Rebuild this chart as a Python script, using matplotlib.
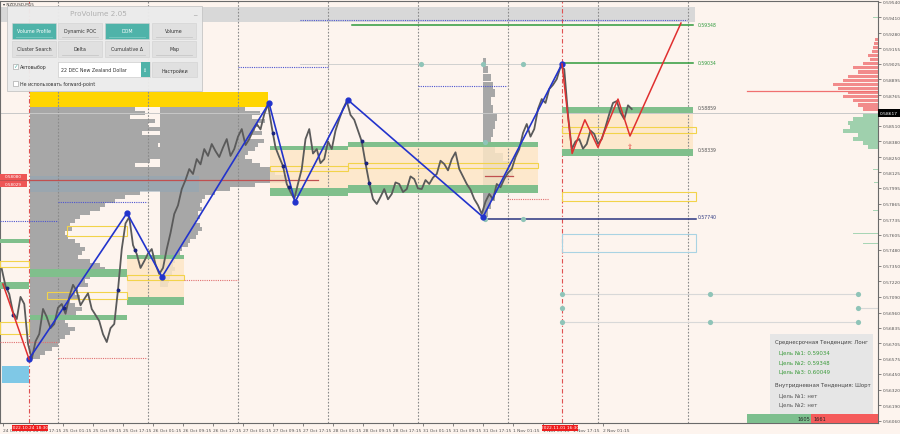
import numpy as np
import matplotlib
matplotlib.use("Agg")
from matplotlib import pyplot as plt
from matplotlib.patches import Rectangle

# ---- данные ----
# время: часы от 25 Oct 00:00 (торговое время, выходные пропущены)
t_price = np.arange(-15, 154, 1)
price = [0.57321, 0.57180, 0.57113, 0.56960, 0.56906, 0.57090, 0.57031, 0.56700,
         0.56574, 0.56720, 0.56782, 0.56990, 0.56923, 0.56830, 0.56865, 0.57000,
         0.57031, 0.56950, 0.57089, 0.57190, 0.57138, 0.57020, 0.57072, 0.57120,
         0.56989, 0.56940, 0.56889, 0.56780, 0.56715, 0.56830, 0.56865, 0.57150,
         0.57487, 0.57700, 0.57753, 0.57520, 0.57445, 0.57330, 0.57387, 0.57450,
         0.57487, 0.57360, 0.57280, 0.57330, 0.57487, 0.57620, 0.57778, 0.57850,
         0.57985, 0.58060, 0.58151, 0.58110, 0.58234, 0.58190, 0.58317, 0.58260,
         0.58359, 0.58300, 0.58251, 0.58330, 0.58400, 0.58260, 0.58317, 0.58420,
         0.58483, 0.58350, 0.58400, 0.58470, 0.58525, 0.58480, 0.58607, 0.58690,
         0.58500, 0.58330, 0.58250, 0.58176, 0.58027, 0.57960, 0.57902, 0.58030,
         0.58151, 0.58400, 0.58483, 0.58280, 0.58317, 0.58200, 0.58234, 0.58380,
         0.58317, 0.58470, 0.58566, 0.58650, 0.58715, 0.58600, 0.58560, 0.58470,
         0.58380, 0.58200, 0.58035, 0.57902, 0.57861, 0.57920, 0.57985, 0.57900,
         0.57944, 0.58040, 0.58027, 0.57960, 0.57985, 0.58090, 0.58068, 0.57990,
         0.57985, 0.58060, 0.58027, 0.58080, 0.58110, 0.58220, 0.58193, 0.58140,
         0.58234, 0.58290, 0.58151, 0.58090, 0.58027, 0.57980, 0.57902, 0.57850,
         0.57778, 0.57880, 0.57944, 0.57900, 0.58027, 0.58000, 0.58068, 0.58120,
         0.58151, 0.58250, 0.58317, 0.58450, 0.58525, 0.58420, 0.58483, 0.58650,
         0.58732, 0.58700, 0.58815, 0.58850, 0.58898, 0.59000, 0.58981, 0.58600,
         0.58317, 0.58380, 0.58400, 0.58320, 0.58359, 0.58470, 0.58442, 0.58360,
         0.58400, 0.58500, 0.58607, 0.58700, 0.58715, 0.58620, 0.58566, 0.58680,
         0.58649]

# зигзаг
zz_t = [-7.73, 18.4, 27.73, 56.27, 63.2, 77.33, 113.33, 134.4]
zz_p = [0.56574, 0.57786, 0.57255, 0.58699, 0.57877, 0.58724, 0.57753, 0.59023]
frac_t = [-13.6, -12.0, 1.6, 16.0, 20.5, 57.3, 60.0, 61.6, 81.0, 82.0, 83.0]
frac_p = [0.57160, 0.56940, 0.57000, 0.57150, 0.57480, 0.58450, 0.58176, 0.58000,
          0.58380, 0.58200, 0.58035]
red_left_t = [-14.7, -7.73]
red_left_p = [0.57197, 0.56574]
red_proj_t = [134.4, 137.1, 140.5, 144.0, 149.33, 152.53, 166.13]
red_proj_p = [0.59023, 0.58280, 0.58560, 0.58330, 0.58732, 0.58425, 0.59363]

# профили объёма (начало, уровни, объёмы)
p1_t0 = -7.47
p1_lv = np.linspace(0.58649, 0.56591, 63)
p1_vol = [105, 115, 100, 125, 118, 130, 112, 135,
          140, 128, 150, 138, 140, 120, 105, 130,
          170, 230, 260, 200, 150, 110, 95, 85,
          75, 70, 60, 50, 45, 40, 42, 35,
          38, 45, 50, 55, 52, 48, 60, 70,
          75, 65, 60, 55, 58, 48, 45, 50,
          40, 45, 52, 46, 40, 35, 38, 45,
          40, 35, 30, 28, 22, 15, 10]
p2_t0 = 27.2
p2_lv = np.linspace(0.58649, 0.57188, 45)
p2_vol = [85, 100, 92, 105, 98, 95, 102, 90,
          104, 98, 95, 88, 85, 92, 100, 110,
          115, 130, 125, 95, 70, 55, 45, 42,
          40, 42, 38, 40, 36, 40, 42, 38,
          36, 30, 28, 22, 20, 16, 15, 13,
          15, 12, 10, 9, 8]
p3_t0 = 113.33
p3_lv = np.linspace(0.59047, 0.57786, 20)
p3_vol = [3, 5, 8, 10, 12, 8, 10, 14, 12, 10, 8, 12, 20, 28, 30, 25, 15, 12, 8, 5]

# DOM справа
dom_red_lv = np.linspace(0.59230, 0.58649, 18)
dom_red = [3, 4, 5, 6, 10, 8, 15, 25, 20, 30, 35, 45, 40, 30, 35, 25, 20, 15]
dom_green_lv = np.linspace(0.58600, 0.58334, 9)
dom_green = [15, 25, 30, 28, 35, 20, 25, 15, 10]
dom_extra_lv = [0.59413, 0.58151, 0.58043, 0.57803, 0.57620, 0.57537]
dom_extra = [5, 5, 4, 5, 25, 15]

# зоны (t0, t1, верх, низ)
orange_zones = [(18.4, 33.6, 0.57437, 0.57031), (56.53, 77.33, 0.58342, 0.57927),
                (77.33, 128.0, 0.58375, 0.57952), (134.4, 169.33, 0.58616, 0.58317)]
green_bands = [(-15.47, -7.73, 0.57570, 0.57537), (-15.47, -7.73, 0.57213, 0.57155),
               (-7.47, 18.4, 0.57321, 0.57255), (-7.47, 18.4, 0.56939, 0.56898),
               (18.4, 33.6, 0.57437, 0.57404), (18.4, 33.6, 0.57089, 0.57022),
               (56.53, 77.33, 0.58342, 0.58309), (56.53, 77.33, 0.57993, 0.57927),
               (77.33, 128.0, 0.58375, 0.58334), (77.33, 128.0, 0.58018, 0.57952),
               (134.4, 169.33, 0.58666, 0.58616), (134.4, 169.33, 0.58317, 0.58259)]
yellow_boxes = [(-15.47, -7.73, 0.57387, 0.57338), (-15.47, -7.73, 0.56881, 0.56782),
                (-2.93, 18.4, 0.57130, 0.57072), (2.4, 18.4, 0.57678, 0.57595),
                (18.4, 33.6, 0.57271, 0.57230), (56.53, 77.33, 0.58176, 0.58134),
                (77.33, 128.0, 0.58201, 0.58159), (134.4, 170.13, 0.58500, 0.58450),
                (134.4, 170.13, 0.57960, 0.57885)]

# уровни целей
levels = [0.59348, 0.59034, 0.58659, 0.58339, 0.57740]
level_txt = ["0.59348", "0.59034", "0.58859", "0.58339", "0.57740"]

# подписи осей
y_ticks = [0.59540, 0.59410, 0.59280, 0.59155, 0.59025, 0.58895, 0.58765, 0.58640,
           0.58510, 0.58380, 0.58250, 0.58125, 0.57995, 0.57865, 0.57735, 0.57605,
           0.57480, 0.57350, 0.57220, 0.57090, 0.56960, 0.56835, 0.56705, 0.56575,
           0.56450, 0.56320, 0.56190, 0.56060]
x_labels = ["24 Oct 09:15", "24 Oct 17:15",
            "25 Oct 01:15", "25 Oct 09:15", "25 Oct 17:15",
            "26 Oct 01:15", "26 Oct 09:15", "26 Oct 17:15",
            "27 Oct 01:15", "27 Oct 09:15", "27 Oct 17:15",
            "28 Oct 01:15", "28 Oct 09:15", "28 Oct 17:15",
            "31 Oct 01:15", "31 Oct 09:15", "31 Oct 17:15",
            "1 Nov 01:15", "1 Nov 09:15", "1 Nov 17:15", "2 Nov 01:15"]
x_ticks = [-14.75 + 8 * i for i in range(len(x_labels))]
day_sep = [0, 24, 48, 72, 96, 120, 144, 168]
current = 0.58617

bg = "#fdf4ee"
green = "#80bf8c"
HPX = 3.75  # пикселей на час

fig = plt.figure(figsize=(9, 4.35), dpi=100)
fig.patch.set_facecolor(bg)
ax = fig.add_axes([0.0, 11 / 435, 878 / 900, 422 / 435])
ax.set_facecolor(bg)
ax.set_xlim(-15.47, 218.67)
ax.set_ylim(0.56043, 0.59546)

# серая полоса сверху
ax.add_patch(Rectangle((-15.47, 0.59371), 185.3, 0.00125, fc="#d8d8d8", ec="none", zorder=1))

# профили
for t0, lv, vol in [(p1_t0, p1_lv, p1_vol), (p2_t0, p2_lv, p2_vol), (p3_t0, p3_lv, p3_vol)]:
    ax.barh(lv, np.array(vol) / HPX, left=t0, height=abs(lv[1] - lv[0]) * 0.9,
            color="#a7a7a7", linewidth=0, zorder=1)
ax.add_patch(Rectangle((-7.47, 0.58666), 63.5, 0.00124, fc="#ffd500", ec="none", zorder=2))
ax.add_patch(Rectangle((-7.47, 0.57960), 45, 0.00133, fc="#8fa6b8", ec="none", alpha=0.5, zorder=2))

# DOM
ax.barh(dom_red_lv, -np.array(dom_red) / HPX, left=218.67, height=0.00026, color="#f28b8b", linewidth=0, zorder=2)
ax.barh(dom_green_lv, -np.array(dom_green) / HPX, left=218.67, height=0.00026, color="#9fd0ad", linewidth=0, zorder=2)
ax.barh(dom_extra_lv, -np.array(dom_extra) / HPX, left=218.67, height=0.00008, color="#a8d5b5", linewidth=0, zorder=2)
ax.plot([183.73, 218.67], [0.58798, 0.58798], color="#f07070", lw=0.9, zorder=2)

# зоны
for t0, t1, top, bot in orange_zones:
    ax.add_patch(Rectangle((t0, bot), t1 - t0, top - bot, fc="#fde7c6", ec="none", alpha=0.85, zorder=2))
for t0, t1, top, bot in green_bands:
    ax.add_patch(Rectangle((t0, bot), t1 - t0, top - bot, fc=green, ec="none", zorder=3))
for t0, t1, top, bot in yellow_boxes:
    ax.add_patch(Rectangle((t0, bot), t1 - t0, top - bot, fc="none", ec="#f2d34a", lw=0.8, zorder=3))
ax.add_patch(Rectangle((134.4, 0.57463), 35.7, 0.00149, fc="none", ec="#a9d3e3", lw=0.8, zorder=3))
ax.add_patch(Rectangle((-14.93, 0.56375), 7.2, 0.00141, fc="#7fc8e6", ec="none", zorder=3))

# вертикальные разделители дней
for d in day_sep:
    ax.axvline(d, color="#8a8a8a", lw=0.8, ls=(0, (1.5, 1.5)), zorder=2)
for tv in [-7.73, 134.4]:
    ax.axvline(tv, color="#e05050", lw=0.8, ls=(0, (4, 2, 1, 2)), zorder=2)

# горизонтальные линии
ax.axhline(current, color="#c8c8c8", lw=0.7, zorder=2)
ax.plot([-15.47, 69.3], [0.58060, 0.58060], color="#c05050", lw=0.9, zorder=3)
ax.plot([113.87, 121.33], [0.58093, 0.58093], color="#c05050", lw=0.9, zorder=3)
for t0, t1, p in [(64.5, 167.7, 0.59388), (96, 119.73, 0.58840), (0, 23.73, 0.57877),
                  (-15.47, 0, 0.57719), (48, 72, 0.59000)]:
    ax.plot([t0, t1], [p, p], color="#4d55d0", lw=0.8, ls=(0, (1, 1)), zorder=3)
for t0, t1, p in [(-15.47, 0, 0.56715), (0, 23.73, 0.56582), (33.6, 48, 0.57230), (119.73, 131, 0.57902)]:
    ax.plot([t0, t1], [p, p], color="#e07070", lw=0.8, ls=(0, (1, 1)), zorder=3)
ax.plot([64.5, 133.9], [0.59023, 0.59023], color="#d0d0d0", lw=0.7, zorder=2)
ax.plot([134.4, 213.33], [0.57114, 0.57114], color="#d8d8d8", lw=0.8, zorder=2)
ax.plot([134.4, 213.33], [0.56881, 0.56881], color="#d8d8d8", lw=0.8, zorder=2)
ax.plot([213.33, 218.67], [0.56998, 0.56998], color="#d8d8d8", lw=0.8, zorder=2)

# уровни целей
ax.plot([78.4, 169.33], [levels[0], levels[0]], color="#2f9a3c", lw=1.1, zorder=3)
ax.plot([134.4, 169.33], [levels[1], levels[1]], color="#2f9a3c", lw=1.1, zorder=3)
ax.plot([113.33, 170.13], [levels[4], levels[4]], color="#2a3580", lw=1.1, zorder=3)
for p, s, c in zip([0.59348, 0.59039, 0.58666, 0.58317, 0.57753], level_txt,
                   ["#2f9a3c", "#2f9a3c", "#555555", "#555555", "#2a3580"]):
    ax.text(170.6, p, s, fontsize=3.3, color=c, va="center", ha="left", zorder=4)

# бирюзовые точки
dots_t = [96.9, 113.33, 124.0, 113.87, 113.87, 124.0, 134.4, 134.4, 134.4, 173.87, 173.87, 213.33, 213.33, 213.33]
dots_p = [0.59023, 0.59023, 0.59023, 0.58375, 0.57736, 0.57736, 0.57114, 0.56998, 0.56881, 0.57114, 0.56881, 0.57114, 0.56998, 0.56881]
ax.scatter(dots_t, dots_p, s=14, color="#8fc4b8", zorder=4, linewidths=0)

# цена
ax.plot(t_price, price, color="#5a5a5a", lw=1.3, zorder=4)

# зигзаги
ax.plot(zz_t, zz_p, color="#2233cc", lw=1.2, zorder=5, marker="o", ms=3.5)
ax.plot(frac_t, frac_p, ls="none", marker="o", ms=1.8, color="#1a237e", zorder=5)
ax.plot(red_left_t, red_left_p, color="#e03030", lw=1.1, zorder=5)
ax.plot(red_proj_t, red_proj_p, color="#e03030", lw=1.1, zorder=5)
ax.text(152.6, 0.58340, "⇧", fontsize=5, color="#e03030", ha="center", va="center", zorder=5)

# оси
ax.yaxis.tick_right()
ax.set_yticks(y_ticks)
ax.set_yticklabels(["%.5f" % v for v in y_ticks], fontsize=3.2, color="#333333")
ax.set_xticks(x_ticks)
ax.set_xticklabels(x_labels, fontsize=3.2, color="#333333")
plt.setp(ax.get_xticklabels(), ha="left")
ax.tick_params(length=2, width=0.5, pad=1.5, colors="#555555")
for s in ax.spines.values():
    s.set_color("#6a6a6a")
    s.set_linewidth(0.8)

# ---- элементы интерфейса (пиксельные координаты) ----
ui = fig.add_axes([0, 0, 1, 1], zorder=10)
ui.set_xlim(0, 900)
ui.set_ylim(435, 0)
ui.axis("off")
ui.patch.set_alpha(0)

ui.text(3, 5, "▾ NZDUSD,M15", fontsize=3, color="#333333", va="center")

# панель ProVolume
ui.add_patch(Rectangle((7, 7), 195, 85, fc="#ececec", ec="#c4c4c4", lw=0.6, alpha=0.96))
ui.text(98, 14, "ProVolume 2.05", fontsize=5.2, color="#b0b0b0", ha="center", va="center")
ui.text(195, 13, "_", fontsize=5, color="#999999", ha="center", va="center")
buttons = [("Volume Profile", 12, 24, True), ("Dynamic POC", 58, 24, False),
           ("DOM", 105, 24, True), ("Volume", 152, 24, False),
           ("Cluster Search", 12, 42, False), ("Delta", 58, 42, False),
           ("Cumulative Δ", 105, 42, False), ("Map", 152, 42, False)]
for name, bx, by, act in buttons:
    ui.add_patch(Rectangle((bx, by), 44, 16, fc="#4fb3a9" if act else "#e0e0e0",
                           ec="#d0d0d0", lw=0.4))
    ui.text(bx + 22, by + 7.5, name, fontsize=3.4, color="white" if act else "#333333",
            ha="center", va="center")
    ui.plot([bx + 4, bx + 40], [by + 13.5, by + 13.5], color="#7ac9c0" if act else "#c8c8c8", lw=0.6)
ui.add_patch(Rectangle((13, 65), 5, 5, fc="white", ec="#9a9a9a", lw=0.4))
ui.text(15.5, 67, "✓", fontsize=4, color="#4fb3a9", ha="center", va="center")
ui.text(20, 67.5, "Автовыбор", fontsize=3.4, color="#333333", va="center")
ui.add_patch(Rectangle((58, 63), 92, 15, fc="white", ec="#c4c4c4", lw=0.4))
ui.add_patch(Rectangle((141, 63), 9, 15, fc="#4fb3a9", ec="none"))
ui.text(145.5, 70.5, "⇕", fontsize=3.5, color="white", ha="center", va="center")
ui.text(61, 71, "22 DEC New Zealand Dollar", fontsize=3.4, color="#333333", va="center")
ui.add_patch(Rectangle((152, 63), 45, 15, fc="#e0e0e0", ec="#d0d0d0", lw=0.4))
ui.text(174.5, 71, "Настройки", fontsize=3.4, color="#333333", ha="center", va="center")
ui.add_patch(Rectangle((13, 82), 5, 5, fc="white", ec="#9a9a9a", lw=0.4))
ui.text(20, 84.5, "Не использовать forward-point", fontsize=3.4, color="#333333", va="center")

# информационный блок
ui.add_patch(Rectangle((770, 335), 103, 80, fc="#e6e6e6", ec="none"))
info = [("Среднесрочная Тенденция: Лонг", 775, 343, "#444444"),
        ("Цель №1: 0.59034", 779, 353, "#3a9a3a"),
        ("Цель №2: 0.59348", 779, 362.5, "#3a9a3a"),
        ("Цель №3: 0.60049", 779, 372, "#3a9a3a"),
        ("Внутридневная Тенденция: Шорт", 775, 386, "#444444"),
        ("Цель №1: нет", 779, 396, "#555555"),
        ("Цель №2: нет", 779, 405, "#555555")]
for s, tx, ty, c in info:
    ui.text(tx, ty, s, fontsize=3.9, color=c, va="center")

# баланс покупок/продаж
ui.add_patch(Rectangle((747, 415), 64, 9, fc="#7dbf8e", ec="none"))
ui.add_patch(Rectangle((811, 415), 67, 9, fc="#f55b5b", ec="none"))
ui.text(810, 419.5, "1605", fontsize=3.6, color="#222222", ha="right", va="center")
ui.text(813, 419.5, "1661", fontsize=3.6, color="#222222", ha="left", va="center")

# метки текущей цены и времени
ui.add_patch(Rectangle((878, 110), 22, 8, fc="black", ec="none"))
ui.text(889, 114, "0.58617", fontsize=3.2, color="white", ha="center", va="center")
for cx, s in [(29.5, "2022.10.24 18:30"), (560, "2022.11.01 16:30")]:
    ui.add_patch(Rectangle((cx - 18, 425.5), 36, 6, fc="#ee1c1c", ec="none"))
    ui.text(cx, 428.5, s, fontsize=3.1, color="white", ha="center", va="center")
ui.add_patch(Rectangle((0, 174.5), 27, 6, fc="#ee5555", ec="none"))
ui.add_patch(Rectangle((0, 182), 27, 6, fc="#ee5555", ec="none"))
ui.text(13.5, 177.5, "0.58080", fontsize=3, color="white", ha="center", va="center")
ui.text(13.5, 185, "0.58029", fontsize=3, color="white", ha="center", va="center")

plt.savefig("out.png", dpi=100, facecolor=bg)
